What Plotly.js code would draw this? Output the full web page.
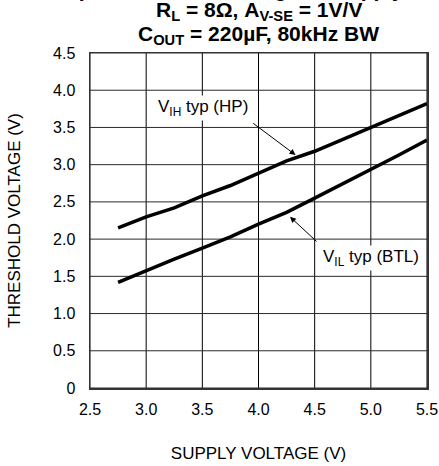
<!DOCTYPE html>
<html>
<head>
<meta charset="utf-8">
<script src="https://cdn.plot.ly/plotly-3.0.1.min.js"></script>
<style>html,body{margin:0;padding:0;background:#fff;}#chart{width:439px;height:466px;}</style>
</head>
<body>
<div id="chart"></div>
<script>
// Supply voltage (V)
const supplyV = [2.75, 3.0, 3.25, 3.5, 3.75, 4.0, 4.25, 4.5, 4.75, 5.0, 5.25, 5.5];
// V_IH typ (HP) threshold (V)
const vihHP = [2.15, 2.30, 2.42, 2.58, 2.72, 2.88, 3.05, 3.18, 3.34, 3.50, 3.66, 3.82];
// V_IL typ (BTL) threshold (V)
const vilBTL = [1.42, 1.58, 1.73, 1.88, 2.03, 2.20, 2.36, 2.55, 2.74, 2.93, 3.13, 3.33];

const xTickVals = [2.5, 3.0, 3.5, 4.0, 4.5, 5.0, 5.5];
const xTickText = ['2.5', '3.0', '3.5', '4.0', '4.5', '5.0', '5.5'];
const yTickVals = [0, 0.5, 1.0, 1.5, 2.0, 2.5, 3.0, 3.5, 4.0, 4.5];
const yTickText = ['0', '0.5', '1.0', '1.5', '2.0', '2.5', '3.0', '3.5', '4.0', '4.5'];

const FONT = 'Liberation Sans, Arial, sans-serif';

const traces = [
  {x: supplyV, y: vihHP, mode: 'lines', line: {color: '#000', width: 3.5}, name: 'VIH typ (HP)'},
  {x: supplyV, y: vilBTL, mode: 'lines', line: {color: '#000', width: 3.5}, name: 'VIL typ (BTL)'}
];

// grid lines placed at the tick values through the axes' own scales
const gridShapes = []
  .concat(xTickVals.map(v => ({type: 'line', xref: 'x', yref: 'paper', x0: v, x1: v, y0: 0, y1: 1,
                               line: {color: '#000', width: 1}, layer: 'below'})))
  .concat(yTickVals.map(v => ({type: 'line', xref: 'paper', yref: 'y', x0: 0, x1: 1, y0: v, y1: v,
                               line: {color: '#2a2a2a', width: 1}, layer: 'below'})));

const layout = {
  width: 439, height: 466,
  margin: {l: 90, r: 12, t: 53, b: 78},
  paper_bgcolor: '#fff', plot_bgcolor: 'rgba(0,0,0,0)',
  showlegend: false,
  font: {family: FONT, color: '#000', size: 16},
  shapes: gridShapes,
  xaxis: {
    range: [2.5, 5.5], tickmode: 'array', tickvals: xTickVals, ticktext: xTickText,
    showgrid: false,
    showline: true, linecolor: '#333', linewidth: 1.5, mirror: true,
    ticks: '', ticklabelstandoff: 6,
    zeroline: false,
    tickfont: {size: 16, family: FONT},
    title: {text: 'SUPPLY VOLTAGE (V)', font: {size: 17, family: FONT}, standoff: 30}
  },
  yaxis: {
    range: [0, 4.5], tickmode: 'array', tickvals: yTickVals, ticktext: yTickText,
    showgrid: false,
    showline: true, linecolor: '#333', linewidth: 1.5, mirror: true,
    ticks: '', ticklabelstandoff: 10,
    zeroline: false,
    tickfont: {size: 16, family: FONT},
    title: {text: 'THRESHOLD VOLTAGE (V)', font: {size: 17, family: FONT}, standoff: 28}
  },
  annotations: [
    {xref: 'paper', yref: 'paper', x: 0.42, y: 1.19, text: '<b>Input Threshold Voltage vs Supply</b>',
     showarrow: false, font: {size: 21, family: FONT}, xanchor: 'center', yanchor: 'middle'},
    {xref: 'paper', yref: 'paper', x: 0.5, y: 1.125, text: '<b>R<sub>L</sub> = 8Ω, A<sub>V-SE</sub> = 1V/V</b>',
     showarrow: false, font: {size: 21, family: FONT}, xanchor: 'center', yanchor: 'middle'},
    {xref: 'paper', yref: 'paper', x: 0.5, y: 1.054, text: '<b>C<sub>OUT</sub> = 220µF, 80kHz BW</b>',
     showarrow: false, font: {size: 21, family: FONT}, xanchor: 'center', yanchor: 'middle'},
    {x: 3.51, y: 3.76, text: 'V<sub>IH</sub> typ (HP)', showarrow: false, font: {size: 17, family: FONT}, bgcolor: '#fff'},
    {x: 5.0, y: 1.75, text: 'V<sub>IL</sub> typ (BTL)', showarrow: false, font: {size: 17, family: FONT}, bgcolor: '#fff'},
    {x: 4.33, y: 3.13, ax: 3.94, ay: 3.57, axref: 'x', ayref: 'y', text: '', showarrow: true,
     arrowhead: 2, arrowsize: 1.2, arrowwidth: 1, arrowcolor: '#000'},
    {x: 4.28, y: 2.30, ax: 4.53, ay: 1.95, axref: 'x', ayref: 'y', text: '', showarrow: true,
     arrowhead: 2, arrowsize: 1.2, arrowwidth: 1, arrowcolor: '#000'}
  ]
};

Plotly.newPlot('chart', traces, layout, {displayModeBar: false, staticPlot: true});
</script>
</body>
</html>
